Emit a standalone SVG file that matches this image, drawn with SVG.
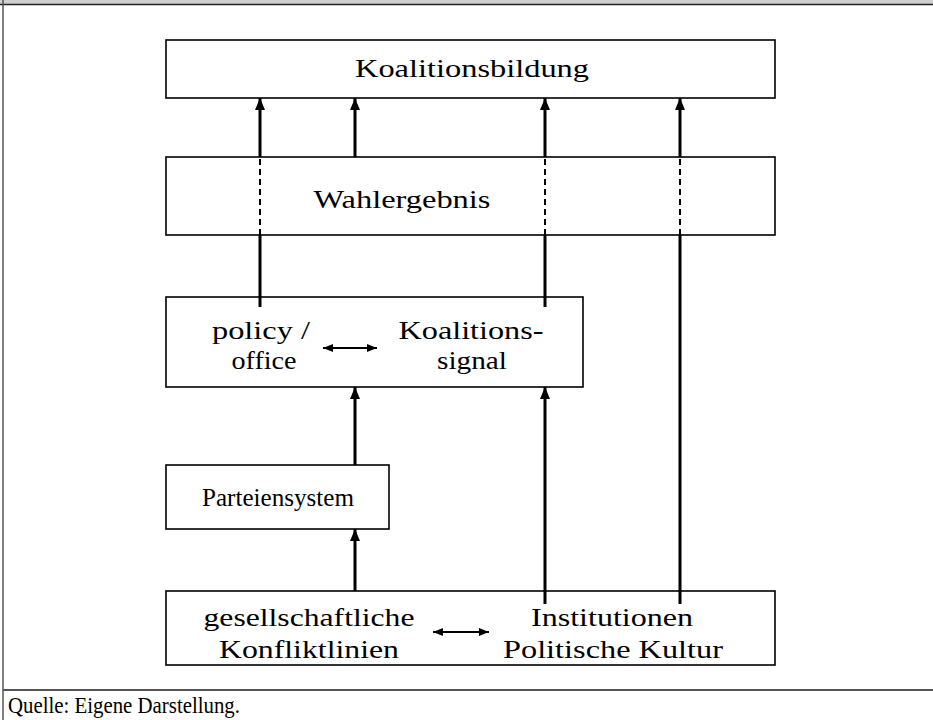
<svg xmlns="http://www.w3.org/2000/svg" width="933" height="720" viewBox="0 0 933 720">
<defs>
<style>
.box{fill:#fff;stroke:#000;stroke-width:1.6}
.t{font-family:"Liberation Serif","Times New Roman",serif;font-size:26px;fill:#000;text-anchor:middle}
.ln{stroke:#000;stroke-width:3;fill:none}
.dash{stroke:#000;stroke-width:2;fill:none;stroke-dasharray:6 4}
.dbl{stroke:#000;stroke-width:2.2;fill:none}
</style>
<marker id="ah" markerUnits="userSpaceOnUse" markerWidth="12" markerHeight="12" viewBox="0 0 12 12" refX="12" refY="6" orient="auto">
<path d="M0,1 L12,6 L0,11 Z" fill="#000"/>
</marker>
<marker id="sh" markerUnits="userSpaceOnUse" markerWidth="10" markerHeight="8" viewBox="0 0 10 8" refX="10" refY="4" orient="auto-start-reverse">
<path d="M0,0 L10,4 L0,8 Z" fill="#000"/>
</marker>
</defs>
<rect x="0" y="0" width="933" height="720" fill="#fff"/>
<rect x="0" y="0" width="933" height="4" fill="#cfcfcf"/>
<line x1="0" y1="4.5" x2="933" y2="4.5" stroke="#222" stroke-width="1.5"/>
<line x1="3" y1="0" x2="3" y2="720" stroke="#555" stroke-width="1.5"/>
<line x1="3" y1="690" x2="933" y2="690" stroke="#555" stroke-width="2"/>
<text x="8" y="713" font-family="Liberation Serif, serif" font-size="23" fill="#000" textLength="232" lengthAdjust="spacingAndGlyphs">Quelle: Eigene Darstellung.</text>

<g id="koalitionsbildung">
<rect class="box" x="166" y="40" width="609" height="58"/>
<text class="t" x="472" y="77" textLength="234" lengthAdjust="spacingAndGlyphs">Koalitionsbildung</text>
</g>
<g id="wahlergebnis">
<rect class="box" x="166" y="157" width="609" height="78"/>
<text class="t" x="402" y="208" textLength="177" lengthAdjust="spacingAndGlyphs">Wahlergebnis</text>
</g>
<g id="policy">
<rect class="box" x="166" y="297" width="417" height="90"/>
<text class="t" x="261" y="339" textLength="98" lengthAdjust="spacingAndGlyphs">policy /</text>
<text class="t" x="264" y="369" textLength="65" lengthAdjust="spacingAndGlyphs">office</text>
<text class="t" x="471" y="339" textLength="145" lengthAdjust="spacingAndGlyphs">Koalitions-</text>
<text class="t" x="472" y="369" textLength="70" lengthAdjust="spacingAndGlyphs">signal</text>
</g>
<g id="parteiensystem">
<rect class="box" x="166" y="465" width="223" height="64"/>
<text class="t" x="278" y="506" textLength="152" lengthAdjust="spacingAndGlyphs">Parteiensystem</text>
</g>
<g id="grundlagen">
<rect class="box" x="166" y="591" width="609" height="74"/>
<text class="t" x="309" y="626" textLength="211" lengthAdjust="spacingAndGlyphs">gesellschaftliche</text>
<text class="t" x="309" y="658" textLength="180" lengthAdjust="spacingAndGlyphs">Konfliktlinien</text>
<text class="t" x="612" y="626" textLength="162" lengthAdjust="spacingAndGlyphs">Institutionen</text>
<text class="t" x="613" y="658" textLength="220" lengthAdjust="spacingAndGlyphs">Politische Kultur</text>
</g>

<g id="connectors">
<line class="ln" x1="260" y1="307" x2="260" y2="235"/>
<line class="dash" x1="260" y1="235" x2="260" y2="157"/>
<line class="ln" x1="260" y1="157" x2="260" y2="98" marker-end="url(#ah)"/>
<line class="ln" x1="355" y1="157" x2="355" y2="98" marker-end="url(#ah)"/>
<line class="ln" x1="545" y1="307" x2="545" y2="235"/>
<line class="dash" x1="545" y1="235" x2="545" y2="157"/>
<line class="ln" x1="545" y1="157" x2="545" y2="98" marker-end="url(#ah)"/>
<line class="ln" x1="680" y1="604" x2="680" y2="235"/>
<line class="dash" x1="680" y1="235" x2="680" y2="157"/>
<line class="ln" x1="680" y1="157" x2="680" y2="98" marker-end="url(#ah)"/>
<line class="ln" x1="355" y1="465" x2="355" y2="387" marker-end="url(#ah)"/>
<line class="ln" x1="355" y1="591" x2="355" y2="529" marker-end="url(#ah)"/>
<line class="ln" x1="545" y1="604" x2="545" y2="387" marker-end="url(#ah)"/>
<line class="dbl" x1="323" y1="348" x2="377" y2="348" marker-start="url(#sh)" marker-end="url(#sh)"/>
<line class="dbl" x1="433" y1="632" x2="489" y2="632" marker-start="url(#sh)" marker-end="url(#sh)"/>
</g>
</svg>
